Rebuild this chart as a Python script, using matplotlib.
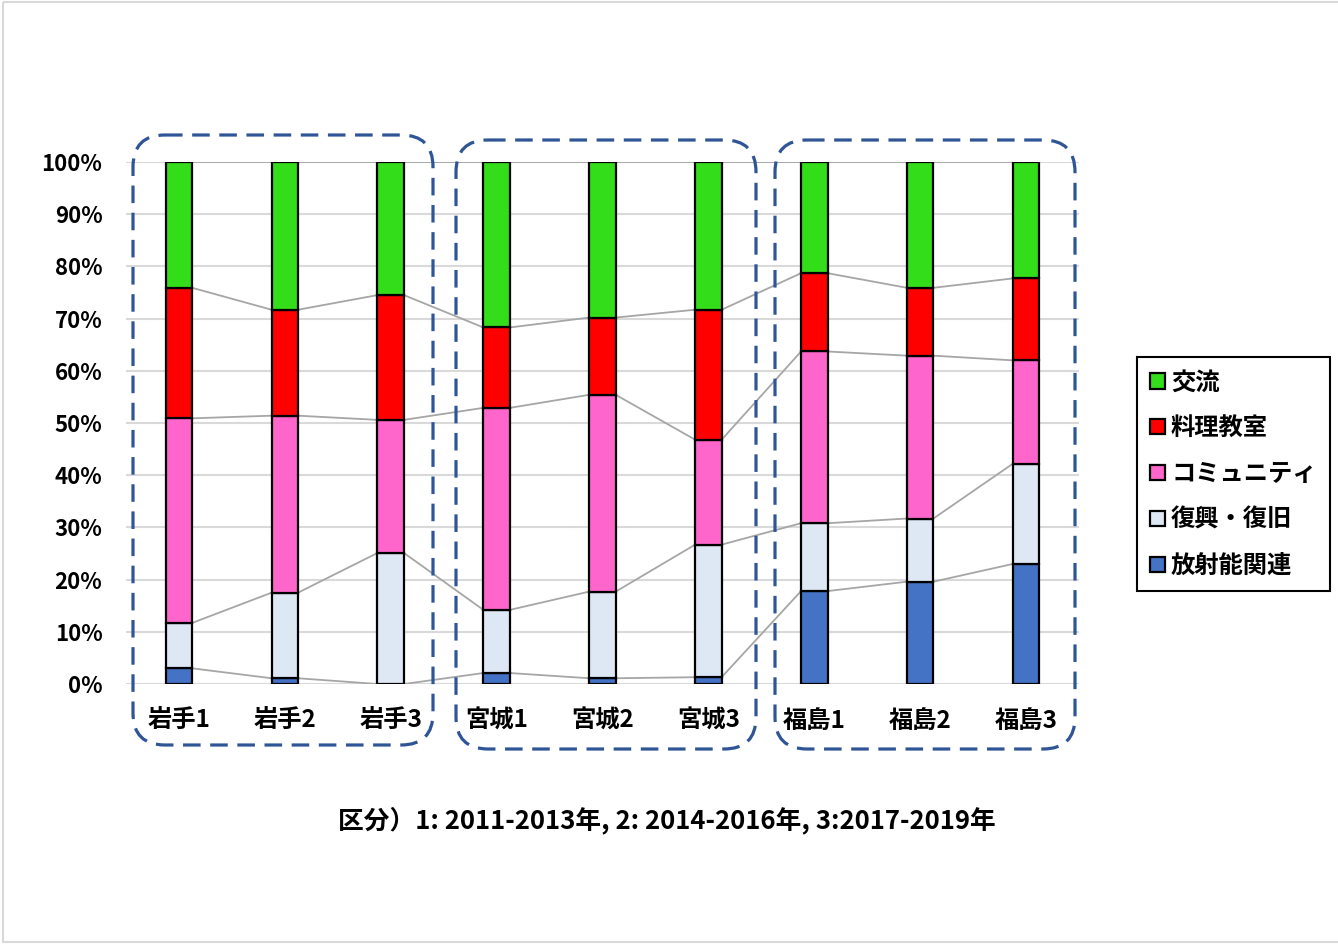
import matplotlib
matplotlib.use("Agg")
import matplotlib.pyplot as plt
from matplotlib.patches import FancyBboxPatch, Rectangle
from matplotlib.transforms import Affine2D
import numpy as np

plt.rcParams['font.family'] = ['Noto Sans CJK JP', 'DejaVu Sans']
plt.rcParams['font.weight'] = 'bold'

categories = ['岩手1', '岩手2', '岩手3', '宮城1', '宮城2', '宮城3', '福島1', '福島2', '福島3']

# share (%) of each theme per region / period, bottom to top
radiation = [3.0, 1.1, 0.0, 2.1, 1.1, 1.3, 17.8, 19.6, 23.0]
recovery = [8.7, 16.4, 25.1, 12.1, 16.6, 25.4, 13.0, 12.1, 19.2]
community = [39.2, 33.9, 25.5, 38.7, 37.7, 20.1, 32.9, 31.2, 19.8]
cooking = [25.0, 20.3, 23.9, 15.4, 14.8, 24.9, 15.0, 13.0, 15.7]
exchange = [24.1, 28.3, 25.5, 31.7, 29.8, 28.3, 21.3, 24.1, 22.3]

series_names = ['放射能関連', '復興・復旧', 'コミュニティ', '料理教室', '交流']
series_values = [radiation, recovery, community, cooking, exchange]
series_colors = ['#4472C4', '#DEE8F4', '#FF66CC', '#FF0000', '#33DD1A']

footnote = '区分）1: 2011-2013年, 2: 2014-2016年, 3:2017-2019年'

W, H = 1338, 944
fig = plt.figure(figsize=(W / 100, H / 100), dpi=100)
ax = fig.add_axes([126 / W, 1 - 684 / H, (1079 - 126) / W, (684 - 162) / H])

x = np.arange(len(categories))
bar_w = 0.25
bottom = np.zeros(len(categories))
bars = []
tops = []
for name, vals, col in zip(series_names, series_values, series_colors):
    v = np.array(vals, dtype=float)
    b = ax.bar(x, v, bar_w, bottom=bottom, color=col, edgecolor='black',
               linewidth=1.6, label=name, zorder=3)
    bars.append(b)
    bottom = bottom + v
    tops.append(bottom.copy())

# series lines joining the top of each segment between neighbouring bars
for t in tops:
    for j in range(len(categories) - 1):
        ax.plot([x[j] + bar_w / 2, x[j + 1] - bar_w / 2], [t[j], t[j + 1]],
                color='#A6A6A6', linewidth=1.3, zorder=2)

ax.set_xlim(-0.5, len(categories) - 0.5)
ax.set_ylim(0, 100)
ax.set_yticks(np.arange(0, 101, 10))
ax.set_yticklabels([f'{v}%' for v in range(0, 101, 10)], fontsize=16, fontweight='bold')
ax.set_xticks(x)
ax.set_xticklabels(categories, fontsize=17.5, fontweight='bold')
ax.tick_params(axis='both', length=0)
ax.tick_params(axis='y', pad=17)
ax.tick_params(axis='x', pad=18)
ax.grid(axis='y', color='#D9D9D9', linewidth=1.5, zorder=0)
ax.set_axisbelow(True)
for s in ax.spines.values():
    s.set_visible(False)

# pixel-based transform (origin top-left) for decorations
px = Affine2D().scale(1 / W, -1 / H).translate(0, 1) + fig.transFigure

# dashed rounded boxes around each prefecture group
for (x0, y0, x1, y1) in [(133, 135, 433, 745), (456, 140, 756, 749), (775, 140, 1075, 749)]:
    box = FancyBboxPatch((x0, y0), x1 - x0, y1 - y0,
                         boxstyle='round,pad=0,rounding_size=32',
                         transform=px, fill=False, edgecolor='#2F5597',
                         linewidth=2.3, linestyle=(0, (5.5, 3.0)), zorder=10)
    fig.add_artist(box)

# outer light border
fig.add_artist(Rectangle((3, 2), W, H - 4, transform=px, fill=False,
                         edgecolor='#D9D9D9', linewidth=1.5))

leg = fig.legend(handles=bars[::-1], labels=series_names[::-1],
                 loc='upper left', bbox_to_anchor=(1137 / W, 1 - 357 / H),
                 bbox_transform=fig.transFigure, frameon=True, fancybox=False,
                 edgecolor='black', framealpha=1, borderaxespad=0,
                 prop={'size': 17.5, 'weight': 'bold'},
                 handlelength=0.6, handleheight=0.6, handletextpad=0.25,
                 labelspacing=0.9, borderpad=0.55)
leg.get_frame().set_linewidth(1.5)

fig.text(667 / W, 1 - 820 / H, footnote, ha='center', va='center',
         fontsize=18.5, fontweight='bold')

fig.savefig('out.png', dpi=100, facecolor='white')
